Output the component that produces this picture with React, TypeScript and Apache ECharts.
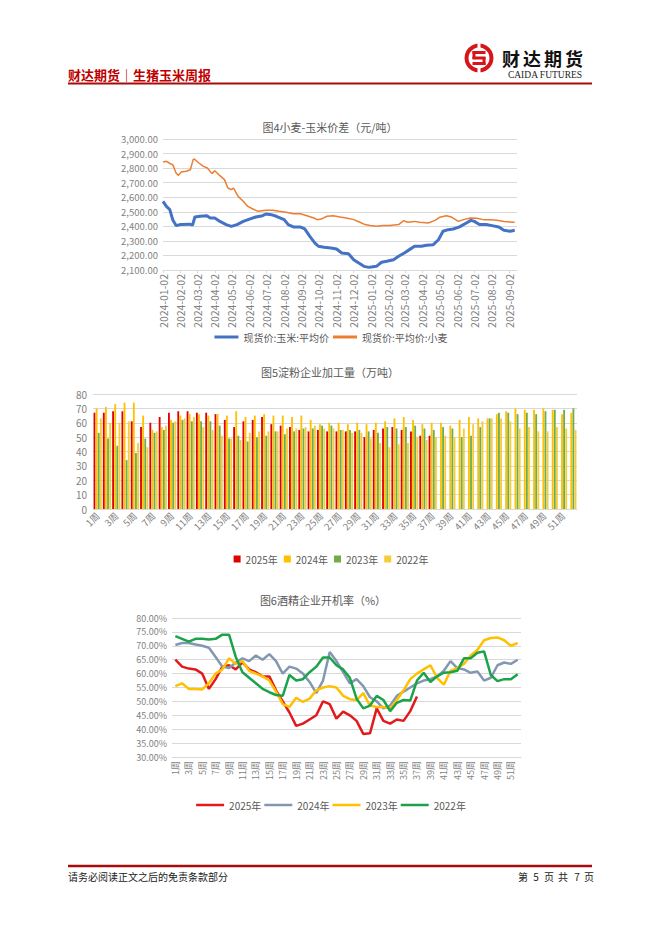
import React, { useEffect, useRef } from "react";
import * as echarts from "echarts";

// ---------- Chart 4: wheat - corn spot prices ----------
const cornDates = [
  "2024-01-02", "2024-01-08", "2024-01-14", "2024-01-19", "2024-01-25", "2024-02-02", "2024-02-18", "2024-02-23",
  "2024-02-27", "2024-03-07", "2024-03-19", "2024-03-25", "2024-04-02", "2024-04-11", "2024-04-22", "2024-05-01",
  "2024-05-11", "2024-05-22", "2024-06-02", "2024-06-13", "2024-06-25", "2024-07-01", "2024-07-10", "2024-07-19",
  "2024-08-02", "2024-08-09", "2024-08-18", "2024-08-30", "2024-09-07", "2024-09-16", "2024-09-25", "2024-10-01",
  "2024-10-11", "2024-10-23", "2024-11-02", "2024-11-11", "2024-11-23", "2024-12-02", "2024-12-11", "2024-12-20",
  "2024-12-29", "2025-01-02", "2025-01-11", "2025-01-20", "2025-01-29", "2025-02-10", "2025-02-19", "2025-03-01",
  "2025-03-10", "2025-03-19", "2025-03-31", "2025-04-09", "2025-04-21", "2025-04-30", "2025-05-08", "2025-05-17",
  "2025-05-26", "2025-06-06", "2025-06-18", "2025-06-26", "2025-07-02", "2025-07-11", "2025-07-23", "2025-08-02",
  "2025-08-14", "2025-08-23", "2025-09-03", "2025-09-11",
];
const cornValues = [
  2572, 2537, 2515, 2446, 2405, 2412, 2415, 2408,
  2464, 2469, 2473, 2457, 2457, 2434, 2412, 2400,
  2412, 2434, 2450, 2464, 2473, 2485, 2480, 2469,
  2446, 2412, 2396, 2396, 2382, 2331, 2285, 2263,
  2256, 2251, 2244, 2217, 2212, 2171, 2148, 2125,
  2118, 2121, 2125, 2153, 2160, 2171, 2194, 2217,
  2240, 2263, 2263, 2270, 2274, 2308, 2366, 2377,
  2382, 2396, 2423, 2441, 2434, 2412, 2412, 2405,
  2396, 2373, 2366, 2373,
];
const wheatDates = [
  "2024-01-02", "2024-01-08", "2024-01-15", "2024-01-19", "2024-01-25", "2024-01-29", "2024-02-03", "2024-02-12",
  "2024-02-19", "2024-02-24", "2024-02-26", "2024-03-05", "2024-03-13", "2024-03-20", "2024-03-28", "2024-04-02",
  "2024-04-11", "2024-04-19", "2024-04-25", "2024-05-01", "2024-05-05", "2024-05-13", "2024-05-22", "2024-05-30",
  "2024-06-08", "2024-06-17", "2024-07-01", "2024-07-13", "2024-07-24", "2024-08-05", "2024-08-18", "2024-08-30",
  "2024-09-11", "2024-09-23", "2024-09-29", "2024-10-06", "2024-10-16", "2024-10-27", "2024-11-08", "2024-11-19",
  "2024-12-02", "2024-12-13", "2024-12-22", "2024-12-31", "2025-01-11", "2025-01-23", "2025-02-03", "2025-02-19",
  "2025-02-28", "2025-03-07", "2025-03-19", "2025-03-28", "2025-04-12", "2025-04-24", "2025-05-02", "2025-05-14",
  "2025-05-23", "2025-06-04", "2025-06-13", "2025-06-25", "2025-07-06", "2025-07-18", "2025-07-30", "2025-08-11",
  "2025-08-23", "2025-09-06", "2025-09-11",
];
const wheatValues = [
  2842, 2847, 2830, 2824, 2766, 2750, 2773, 2778,
  2789, 2858, 2863, 2835, 2812, 2801, 2762, 2782,
  2748, 2721, 2663, 2652, 2663, 2606, 2572, 2537,
  2519, 2503, 2510, 2510, 2503, 2496, 2487, 2487,
  2473, 2457, 2446, 2450, 2469, 2473, 2464, 2457,
  2446, 2428, 2412, 2405, 2400, 2405, 2405, 2412,
  2439, 2428, 2434, 2428, 2423, 2441, 2462, 2473,
  2464, 2434, 2446, 2457, 2455, 2446, 2446, 2441,
  2434, 2428, 2428,
];
const monthTickLabels = [
  "2024-01-02", "2024-02-02", "2024-03-02", "2024-04-02", "2024-05-02", "2024-06-02", "2024-07-02",
  "2024-08-02", "2024-09-02", "2024-10-02", "2024-11-02", "2024-12-02", "2025-01-02", "2025-02-02",
  "2025-03-02", "2025-04-02", "2025-05-02", "2025-06-02", "2025-07-02", "2025-08-02", "2025-09-02",
];

// ---------- Chart 5: starch processing volume (万吨) ----------
const weekLabels = [
  "1周", "2周", "3周", "4周", "5周", "6周", "7周", "8周", "9周", "10周", "11周", "12周", "13周",
  "14周", "15周", "16周", "17周", "18周", "19周", "20周", "21周", "22周", "23周", "24周", "25周", "26周",
  "27周", "28周", "29周", "30周", "31周", "32周", "33周", "34周", "35周", "36周", "37周", "38周", "39周",
  "40周", "41周", "42周", "43周", "44周", "45周", "46周", "47周", "48周", "49周", "50周", "51周", "52周",
];
const starch2025 = [
  67, 67, 68, 68, 61, 57, 60, 64, 67, 68, 68, 67, 67, 66, 62, 57, 61, 62, 64, 59, 58, 57, 55, 54, 55, 54,
  54, 54, 54, 50, 55, 56, 57, 55, 54, 51, 51,
];
const starch2024 = [
  70, 71, 73, 74, 74, 65, 55, 57, 62, 65, 66, 66, 65, 66, 65, 68, 64, 65, 66, 65, 65, 64, 65, 62, 59, 60,
  60, 59, 60, 59, 60, 61, 63, 64, 62, 59, 60, 60, 58, 62, 64, 63, 63, 66, 68, 70, 69, 69, 70, 69, 66, 67,
];
const starch2023 = [
  53, 49, 44, 34, 39, 49, 53, 55, 60, 62, 61, 61, 61, 58, 49, 51, 47, 50, 51, 54, 52, 54, 56, 56, 58, 58,
  55, 55, 55, 54, 53, 57, 56, 57, 58, 56, 55, 57, 56, 50, 51, 57, 63, 67, 67, 66, 67, 66, 68, 69, 69, 70,
];
const starch2022 = [
  63, 60, 60, 61, 46, 43, 54, 58, 61, 63, 64, 57, 55, 51, 49, 48, 53, 54, 54, 54, 56, 56, 57, 58, 56, 56,
  55, 53, 53, 49, 46, 43, 45, 46, 50, 48, 50, 51, 50, 56, 59, 61, 63, 63, 61, 56, 57, 54, 54, 57, 56, 55,
];

// ---------- Chart 6: alcohol plant operating rate (%) ----------
const alcohol2025 = [
  65, 62.5, 61.8, 61.5, 60, 54.5, 58, 62.5, 63, 61.5, 64, 61.5, 60.5, 59, 59, 54, 50, 46, 41.2, 42, 43.5,
  45, 50, 49, 43.8, 46.3, 45, 43, 38.3, 38.5, 47.5, 43, 42, 43.5, 43, 46.5, 51.8,
];
const alcohol2024 = [
  70.3, 71, 71, 70.5, 70, 69.3, 66, 62.5, 62, 64, 65.5, 64.5, 66.5, 65, 67, 64.5, 60, 62.5, 61.8, 60, 57,
  53, 57.5, 67.8, 64.5, 60.5, 56.5, 58, 55.5, 51.5, 50, 47.5, 48.5, 52, 53.5, 55, 56.5, 57.5, 58, 59, 61,
  64.5, 62, 61.5, 60.3, 60.8, 57.5, 58.5, 63, 64, 63.5, 65,
];
const alcohol2023 = [
  55.5, 56.5, 54.5, 54.5, 54.3, 56.5, 60, 61.5, 65.5, 63.5, 64.5, 61, 60, 59, 57.5, 53.5, 49, 48, 51.3,
  49.8, 51, 54, 55, 55.5, 55, 52, 50.8, 50.5, 53, 48.5, 48, 48, 47.5, 50.5, 54, 58, 60, 61.5, 63, 58.5,
  56, 61, 62, 63.5, 66.5, 68.5, 72, 72.8, 73, 72, 70, 71,
];
const alcohol2022 = [
  73.5, 72.5, 71.5, 72.5, 72.5, 72.3, 72.5, 74, 74, 66, 60.5, 58.5, 56.5, 54.5, 53.3, 52.3, 52, 59.5,
  57.5, 58, 60.5, 62.5, 65.8, 65.8, 63, 61.5, 58.5, 51, 47.5, 48.5, 52, 50.5, 46.5, 49.5, 50.5, 50.3,
  57.5, 60.3, 57, 59, 60.3, 60.5, 61, 65.5, 65.5, 67.5, 68, 59.5, 57.3, 58, 58, 59.8,
];

const FONT = "'Noto Sans CJK SC', 'Noto Sans', sans-serif";
const LABEL = "#7f7f7f";
const GRID = "#d9d9d9";
const TITLE = "#595959";

const pad2 = (n: number) => (n < 10 ? "0" : "") + n;
const parseLocal = (s: string) => {
  const [y, m, d] = s.split("-").map(Number);
  return new Date(y, m - 1, d).getTime();
};
const fmtDate = (t: number) => {
  const d = new Date(t);
  return `${d.getFullYear()}-${pad2(d.getMonth() + 1)}-${pad2(d.getDate())}`;
};
const fmtThousands = (v: number) => {
  const [i, d] = v.toFixed(2).split(".");
  return i.replace(/\B(?=(\d{3})+(?!\d))/g, ",") + "." + d;
};

export default function App() {
  const ref = useRef<HTMLDivElement>(null);
  useEffect(() => {
    document.body.style.margin = "0";
    if (!ref.current) return;
    const chart = echarts.init(ref.current, undefined, { renderer: "svg" });
    const tickVals = monthTickLabels.map(parseLocal);
    const lx = 479;
    const ly = 58;
    const footText = (x: number, t: string) => ({
      type: "text", x, y: 876,
      style: { text: t, fill: "#222222", fontSize: 10, fontFamily: FONT, align: "center", verticalAlign: "middle" },
    });
    const option: any = {
      animation: false,
      backgroundColor: "#ffffff",
      textStyle: { fontFamily: FONT },
      grid: [
        { left: 163, top: 139, width: 354, height: 131 },
        { left: 93, top: 394, width: 484, height: 115 },
        { left: 172, top: 618, width: 349, height: 139 },
      ],
      legend: [
        {
          top: 327, left: "center", icon: "rect", itemWidth: 24, itemHeight: 3, itemGap: 4,
          data: ["现货价:玉米:平均价", "现货价:平均价:小麦"],
          textStyle: { fontSize: 10, color: TITLE, fontFamily: FONT },
        },
        {
          top: 549, left: "center", icon: "rect", itemWidth: 7, itemHeight: 7, itemGap: 6,
          data: ["2025年", "2024年", "2023年", "2022年"],
          textStyle: { fontSize: 10, color: TITLE, fontFamily: FONT },
        },
        {
          top: 795, left: "center", icon: "rect", itemWidth: 28, itemHeight: 2.5, itemGap: 3,
          data: ["线2025年", "线2024年", "线2023年", "线2022年"],
          formatter: (n: string) => n.replace("线", ""),
          textStyle: { fontSize: 10, color: TITLE, fontFamily: FONT },
        },
      ],
      xAxis: [
        {
          gridIndex: 0, type: "value",
          min: parseLocal("2024-01-02"), max: parseLocal("2025-09-15"),
          axisLine: { show: true, lineStyle: { color: GRID } },
          axisTick: { show: true, customValues: tickVals, length: 3, lineStyle: { color: GRID } },
          axisLabel: { customValues: tickVals, rotate: 90, formatter: (v: number) => fmtDate(v), color: LABEL, fontSize: 10.5, margin: 4, hideOverlap: false },
          splitLine: { show: false },
        },
        {
          gridIndex: 1, type: "category", data: weekLabels,
          axisLine: { lineStyle: { color: GRID } },
          axisTick: { show: false },
          axisLabel: { interval: 1, rotate: 45, color: LABEL, fontSize: 9.5, margin: 5 },
        },
        {
          gridIndex: 2, type: "category", data: weekLabels, boundaryGap: true,
          axisLine: { lineStyle: { color: GRID } },
          axisTick: { show: false },
          axisLabel: { interval: 1, rotate: 90, color: LABEL, fontSize: 9, margin: 4 },
        },
      ],
      yAxis: [
        {
          gridIndex: 0, type: "value", min: 2100, max: 3000, interval: 100,
          axisLine: { show: false }, axisTick: { show: false },
          axisLabel: { formatter: (v: number) => fmtThousands(v), color: LABEL, fontSize: 9.5, margin: 5 },
          splitLine: { lineStyle: { color: GRID } },
        },
        {
          gridIndex: 1, type: "value", min: 0, max: 80, interval: 10,
          axisLine: { show: false }, axisTick: { show: false },
          axisLabel: { color: LABEL, fontSize: 10, margin: 6 },
          splitLine: { lineStyle: { color: GRID } },
        },
        {
          gridIndex: 2, type: "value", min: 30, max: 80, interval: 5,
          axisLine: { show: false }, axisTick: { show: false },
          axisLabel: { formatter: (v: number) => v.toFixed(2) + "%", color: LABEL, fontSize: 9, margin: 5 },
          splitLine: { lineStyle: { color: GRID } },
        },
      ],
      series: [
        {
          name: "现货价:玉米:平均价", type: "line", xAxisIndex: 0, yAxisIndex: 0, symbol: "none",
          data: cornDates.map((d, i) => [parseLocal(d), cornValues[i]]),
          lineStyle: { color: "#4472c4", width: 3 }, itemStyle: { color: "#4472c4" },
        },
        {
          name: "现货价:平均价:小麦", type: "line", xAxisIndex: 0, yAxisIndex: 0, symbol: "none",
          data: wheatDates.map((d, i) => [parseLocal(d), wheatValues[i]]),
          lineStyle: { color: "#ed7d31", width: 1.5 }, itemStyle: { color: "#ed7d31" },
        },
        { name: "2025年", type: "bar", xAxisIndex: 1, yAxisIndex: 1, data: starch2025, itemStyle: { color: "#e00000" }, barGap: "15%", barCategoryGap: "12%" },
        { name: "2024年", type: "bar", xAxisIndex: 1, yAxisIndex: 1, data: starch2024, itemStyle: { color: "#ffc000" } },
        { name: "2023年", type: "bar", xAxisIndex: 1, yAxisIndex: 1, data: starch2023, itemStyle: { color: "#70ad47" } },
        { name: "2022年", type: "bar", xAxisIndex: 1, yAxisIndex: 1, data: starch2022, itemStyle: { color: "#f5cc3a" } },
        { name: "线2025年", type: "line", xAxisIndex: 2, yAxisIndex: 2, symbol: "none", data: alcohol2025, lineStyle: { color: "#e31a1c", width: 2.5 }, itemStyle: { color: "#e31a1c" } },
        { name: "线2024年", type: "line", xAxisIndex: 2, yAxisIndex: 2, symbol: "none", data: alcohol2024, lineStyle: { color: "#8497b0", width: 2.5 }, itemStyle: { color: "#8497b0" } },
        { name: "线2023年", type: "line", xAxisIndex: 2, yAxisIndex: 2, symbol: "none", data: alcohol2023, lineStyle: { color: "#ffc000", width: 2.5 }, itemStyle: { color: "#ffc000" } },
        { name: "线2022年", type: "line", xAxisIndex: 2, yAxisIndex: 2, symbol: "none", data: alcohol2022, lineStyle: { color: "#1aa34a", width: 2.5 }, itemStyle: { color: "#1aa34a" } },
      ],
      graphic: [
        // header
        { type: "text", x: 68, y: 74, style: { text: "财达期货｜生猪玉米周报", fill: "#c00000", fontSize: 13, fontWeight: "bold", fontFamily: FONT, verticalAlign: "middle" } },
        { type: "line", shape: { x1: 68, y1: 83.5, x2: 592, y2: 83.5 }, style: { stroke: "#a50d0d", lineWidth: 2 } },
        // logo
        { type: "ring", shape: { cx: lx, cy: ly, r: 14.5, r0: 10.5 }, style: { fill: "#d7141a" } },
        { type: "rect", shape: { x: lx - 1.5, y: ly - 15, width: 3, height: 5 }, style: { fill: "#ffffff" } },
        { type: "rect", shape: { x: lx - 1.5, y: ly + 10, width: 3, height: 5 }, style: { fill: "#ffffff" } },
        { type: "rect", shape: { x: lx - 6.5, y: ly - 7, width: 13, height: 3 }, style: { fill: "#d7141a" } },
        { type: "rect", shape: { x: lx - 6.5, y: ly - 7, width: 3, height: 8 }, style: { fill: "#d7141a" } },
        { type: "rect", shape: { x: lx - 6.5, y: ly - 1.5, width: 13, height: 3 }, style: { fill: "#d7141a" } },
        { type: "rect", shape: { x: lx + 3.5, y: ly - 1, width: 3, height: 8 }, style: { fill: "#d7141a" } },
        { type: "rect", shape: { x: lx - 6.5, y: ly + 4, width: 13, height: 3 }, style: { fill: "#d7141a" } },
        { type: "text", x: 511, y: 58, style: { text: "财", fill: "#111111", fontSize: 18, fontWeight: "bold", fontFamily: FONT, align: "center", verticalAlign: "middle" } },
        { type: "text", x: 532, y: 58, style: { text: "达", fill: "#111111", fontSize: 18, fontWeight: "bold", fontFamily: FONT, align: "center", verticalAlign: "middle" } },
        { type: "text", x: 553, y: 58, style: { text: "期", fill: "#111111", fontSize: 18, fontWeight: "bold", fontFamily: FONT, align: "center", verticalAlign: "middle" } },
        { type: "text", x: 574, y: 58, style: { text: "货", fill: "#111111", fontSize: 18, fontWeight: "bold", fontFamily: FONT, align: "center", verticalAlign: "middle" } },
        { type: "text", x: 545, y: 74.5, style: { text: "CAIDA FUTURES", fill: "#222222", fontSize: 9.5, fontFamily: "'Liberation Serif', 'DejaVu Serif', serif", align: "center", verticalAlign: "middle" } },
        // chart titles
        { type: "text", x: 330, y: 127, style: { text: "图4小麦-玉米价差（元/吨）", fill: TITLE, fontSize: 11, fontFamily: FONT, align: "center", verticalAlign: "middle" } },
        { type: "text", x: 330, y: 372, style: { text: "图5淀粉企业加工量（万吨）", fill: TITLE, fontSize: 11, fontFamily: FONT, align: "center", verticalAlign: "middle" } },
        { type: "text", x: 323, y: 600, style: { text: "图6酒精企业开机率（%）", fill: TITLE, fontSize: 11, fontFamily: FONT, align: "center", verticalAlign: "middle" } },
        // footer
        { type: "line", shape: { x1: 68, y1: 866, x2: 592, y2: 866 }, style: { stroke: "#a50d0d", lineWidth: 2.5 } },
        { type: "text", x: 68, y: 876, style: { text: "请务必阅读正文之后的免责条款部分", fill: "#222222", fontSize: 10, fontFamily: FONT, verticalAlign: "middle" } },
        footText(523, "第"),
        footText(536, "5"),
        footText(549, "页"),
        footText(563, "共"),
        footText(577, "7"),
        footText(589, "页"),
      ],
    };
    chart.setOption(option);
    return () => chart.dispose();
  }, []);
  return <div ref={ref} style={{ width: 662, height: 936 }} />;
}
